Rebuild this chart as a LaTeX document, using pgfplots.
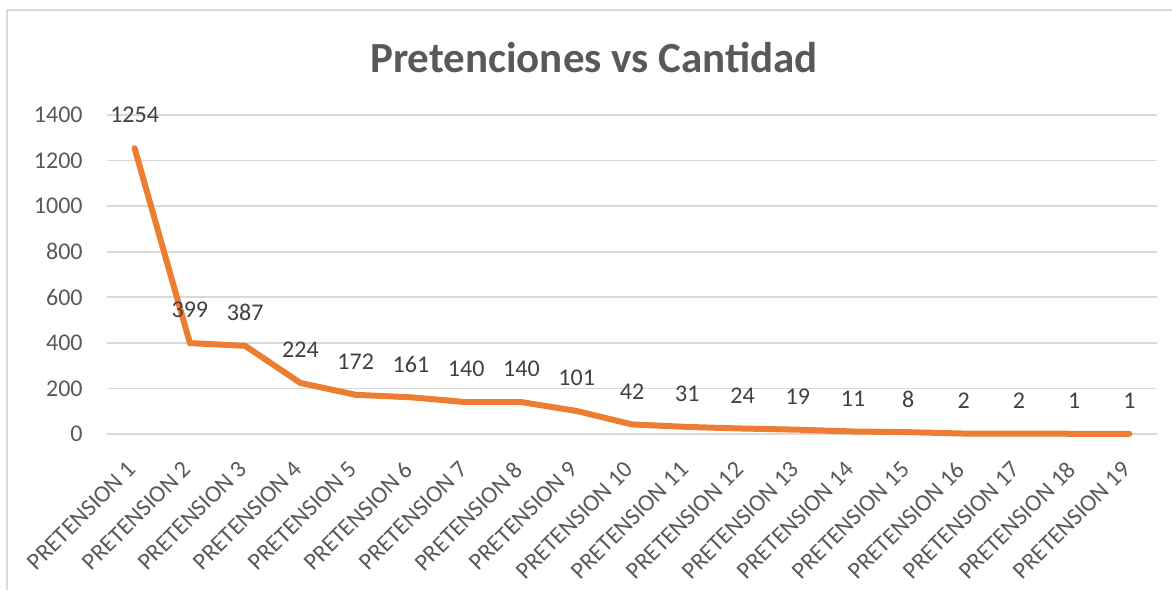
\documentclass[border=0pt]{standalone}
\usepackage{fontspec}
\setmainfont{Carlito}
\usepackage{pgfplots}
\pgfplotsset{compat=1.18}

\definecolor{exorange}{HTML}{ED7D31}
\definecolor{exgrid}{HTML}{D9D9D9}
\definecolor{extext}{HTML}{595959}
\definecolor{exlabel}{HTML}{404040}

\begin{document}
\begin{tikzpicture}
% picture frame: 1 px = 0.5pt
\useasboundingbox (0,0) rectangle (586pt,295pt);
\draw[exgrid, line width=0.8pt] (3.5pt,0) -- (3.5pt,290pt) -- (586pt,290pt);

\node[text=extext, font=\fontsize{21.5}{26}\selectfont\bfseries] at (297pt,266pt) {Pretenciones vs Cantidad};

\begin{axis}[
  at={(53.5pt,78pt)}, anchor=south west,
  scale only axis,
  width=525pt, height=159.5pt,
  xmin=0.5, xmax=19.5,
  ymin=0, ymax=1400,
  ytick={0,200,...,1400},
  xtick={1,...,19},
  xticklabels={PRETENSION 1,PRETENSION 2,PRETENSION 3,PRETENSION 4,PRETENSION 5,PRETENSION 6,PRETENSION 7,PRETENSION 8,PRETENSION 9,PRETENSION 10,PRETENSION 11,PRETENSION 12,PRETENSION 13,PRETENSION 14,PRETENSION 15,PRETENSION 16,PRETENSION 17,PRETENSION 18,PRETENSION 19},
  axis line style={draw=none},
  major tick length=0pt,
  ymajorgrids=true,
  grid style={exgrid, line width=0.8pt},
  /pgf/number format/assume math mode=true,
  /pgf/number format/1000 sep={},
  tick label style={text=extext, font=\fontsize{12}{14}\selectfont},
  yticklabel style={anchor=east, inner sep=0pt, xshift=-12pt},
  xticklabel style={rotate=45, anchor=north east, inner sep=0pt, yshift=-6pt, xshift=-12pt},
  clip=false,
]
\addplot[exorange, line width=3pt, line join=round, line cap=round,
  nodes near coords,
  every node near coord/.append style={anchor=center, yshift=16.5pt, text=exlabel, font=\fontsize{12}{14}\selectfont},
] coordinates {
  (1,1254)(2,399)(3,387)(4,224)(5,172)(6,161)(7,140)(8,140)(9,101)(10,42)
  (11,31)(12,24)(13,19)(14,11)(15,8)(16,2)(17,2)(18,1)(19,1)
};
\end{axis}
\end{tikzpicture}
\end{document}
